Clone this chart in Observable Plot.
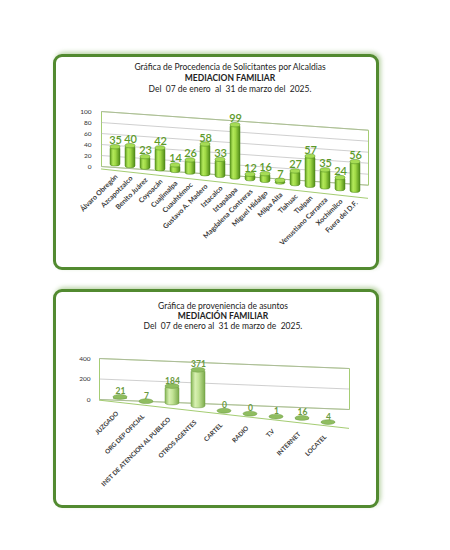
<!DOCTYPE html>
<html><head><meta charset="utf-8">
<script src="https://cdn.jsdelivr.net/npm/d3@7"></script>
<script src="https://cdn.jsdelivr.net/npm/@observablehq/plot@0.6"></script>
<style>
html,body{margin:0;padding:0;background:#fff;}
body{width:450px;height:550px;position:relative;overflow:hidden;font-family:Lato,"Open Sans",sans-serif;}
.panel{position:absolute;left:53px;width:326px;box-sizing:border-box;border:3px solid #528a30;border-radius:9px;background:#fff;box-shadow:2px -2px 4px rgba(110,165,70,0.45);}
.title{position:absolute;text-align:center;color:#222;font-size:8.5px;}
.title b{font-weight:700;}
.chart{position:absolute;left:0;}
</style></head>
<body>
<div class="panel" style="top:54px;height:216px;"></div>
<div class="panel" style="top:289px;height:219px;"></div>
<div class="title" style="left:0;width:460px;top:61.5px;line-height:11px;">Gráfica de Procedencia de Solicitantes por Alcaldias<br><b>MEDIACION FAMILIAR</b><br>Del&nbsp; 07 de enero&nbsp; al&nbsp; 31 de marzo del&nbsp; 2025.</div>
<div class="title" style="left:0;width:446px;top:302px;line-height:9.8px;">Gráfica de proveniencia de asuntos<br><b>MEDIACIÓN FAMILIAR</b><br>Del&nbsp; 07 de enero al&nbsp; 31 de marzo de&nbsp; 2025.</div>
<div id="c1" class="chart" style="top:95px;"></div>
<div id="c2" class="chart" style="top:340px;"></div>
<script>
// ---- Data: chart 1 ----
const alcaldias = ["Álvaro Obregón","Azcapotzalco","Benito Juárez","Coyoacán","Cuajimalpa","Cuauhtémoc","Gustavo A. Madero","Iztacalco","Iztapalapa","Magdalena Contreras","Miguel Hidalgo","Milpa Alta","Tlahuac","Tlalpan","Venustiano Carranza","Xochimilco","Fuera del D.F."];
const solicitantes = [35,40,23,42,14,26,58,33,99,12,16,7,27,57,35,24,56];
const yTicks1 = [0,20,40,60,80,100];
// ---- Data: chart 2 ----
const asuntos = ["JUZGADO","ORG DEP OFICIAL","INST DE ATENCION AL PUBLICO","OTROS AGENTES","CARTEL","RADIO","T.V","INTERNET","LOCATEL"];
const asuntosValores = [21,7,184,371,0,0,1,16,4];
const yTicks2 = [0,200,400];

const SVGNS = "http://www.w3.org/2000/svg";

function addGradient(svg, id, stops) {
  const defs = document.createElementNS(SVGNS, "defs");
  const lg = document.createElementNS(SVGNS, "linearGradient");
  lg.setAttribute("id", id);
  lg.setAttribute("x1", "0"); lg.setAttribute("x2", "1");
  lg.setAttribute("y1", "0"); lg.setAttribute("y2", "0");
  stops.forEach(([o, c]) => {
    const s = document.createElementNS(SVGNS, "stop");
    s.setAttribute("offset", o); s.setAttribute("stop-color", c);
    lg.appendChild(s);
  });
  defs.appendChild(lg);
  svg.insertBefore(defs, svg.firstChild);
}

function bandCenter(plot, cats, opts) {
  let sc = null;
  try { sc = plot.scale("x"); } catch (e) {}
  if (sc && sc.apply) return c => sc.apply(c) + sc.bandwidth / 2;
  const b = d3.scaleBand(cats, [opts.marginLeft, opts.width - opts.marginRight]).padding(opts.padding);
  return c => b(c) + b.bandwidth() / 2;
}

function shiftGroup(g, k, x0, center, cats) {
  if (!g) return;
  const els = Array.from(g.children).filter(e => e.tagName.toLowerCase() !== "title");
  els.forEach((el, i) => {
    if (i >= cats.length) return;
    const off = k * (center(cats[i]) - x0);
    const t = el.getAttribute("transform") || "";
    el.setAttribute("transform", `translate(0,${off.toFixed(2)}) ${t}`);
  });
}

function skewGroup(g, k, x0) {
  if (!g) return;
  const w = document.createElementNS(SVGNS, "g");
  g.parentNode.insertBefore(w, g);
  w.appendChild(g);
  const deg = Math.atan(k) * 180 / Math.PI;
  w.setAttribute("transform", `translate(${x0},0) skewY(${deg}) translate(${-x0},0)`);
}

function build(cfg) {
  const data = cfg.cats.map((c, i) => ({cat: c, value: cfg.values[i]}));
  const opts = {width: 450, height: cfg.height, marginLeft: cfg.ml, marginRight: cfg.mr, padding: cfg.padding};
  const plot = Plot.plot({
    width: 450,
    height: cfg.height,
    marginTop: cfg.mt,
    marginBottom: cfg.mb,
    marginLeft: cfg.ml,
    marginRight: cfg.mr,
    style: {background: "transparent", fontFamily: "Lato, 'Open Sans', sans-serif", fontSize: cfg.tickFont, color: "#333", overflow: "visible"},
    x: {domain: cfg.cats, padding: cfg.padding, axis: null},
    y: {domain: cfg.yDomain, ticks: cfg.yTicks, tickSize: 0, tickPadding: cfg.tickPad, label: null},
    marks: [
      Plot.frame({stroke: "#9cc866", strokeWidth: 0.9}),
      Plot.ruleY(cfg.yTicks, {stroke: "#b0b0b0", strokeWidth: 0.6}),
      Plot.ruleY([cfg.yDomain[0]], {stroke: "#9cc866", strokeWidth: 0.9, dy: cfg.floorDy}),
      Plot.barY(data, {x: "cat", y: "value", fill: `url(#${cfg.id}g)`, stroke: cfg.barStroke, strokeWidth: 0.5, rx: cfg.rx, ry: 2}),
      Plot.barY(data, {x: "cat", y1: "value", y2: "value", insetTop: -cfg.capH, insetBottom: -cfg.capH, rx: 20, ry: cfg.capH, fill: cfg.capFill, stroke: cfg.barStroke, strokeWidth: 0.5}),
      Plot.text(data, {x: "cat", y: "value", text: d => String(d.value), lineAnchor: "bottom", dy: cfg.valDy, fill: cfg.valColor, fontSize: cfg.valFont, fontWeight: cfg.valWeight}),
      Plot.text(data, {x: "cat", y: d => 0, text: "cat", rotate: -45, textAnchor: "end", lineAnchor: "middle", dx: cfg.labDx, dy: cfg.labDy, fill: "#3a3a3a", fontSize: cfg.labFont, fontWeight: "bold"})
    ]
  });
  const svg = plot.tagName.toLowerCase() === "svg" ? plot : plot.querySelector("svg");
  addGradient(svg, cfg.id + "g", cfg.grad);
  const center = bandCenter(plot, cfg.cats, opts);
  const x0 = center(cfg.cats[0]);
  const bars = svg.querySelectorAll('g[aria-label="bar"]');
  const texts = svg.querySelectorAll('g[aria-label="text"]');
  const rules = svg.querySelectorAll('g[aria-label="rule"]');
  const frame = svg.querySelector('g[aria-label="frame"], rect[aria-label="frame"]');
  bars.forEach(g => shiftGroup(g, cfg.kBar, x0, center, cfg.cats));
  texts.forEach(g => shiftGroup(g, cfg.kBar, x0, center, cfg.cats));
  if (rules[0]) skewGroup(rules[0], cfg.kGrid, cfg.ml);
  if (rules[1]) skewGroup(rules[1], cfg.kBar, x0);
  if (frame) skewGroup(frame, cfg.kGrid, cfg.ml);
  document.getElementById(cfg.id).appendChild(plot);
}

build({
  id: "c1", cats: alcaldias, values: solicitantes, yTicks: yTicks1, yDomain: [0, 100],
  height: 175, mt: 16, mb: 104, ml: 101, mr: 82, padding: 0.35, tickFont: "6.5px", tickPad: 10,
  kBar: 0.11, kGrid: 0.07, floorDy: 4, rx: 4, capH: 2.2,
  grad: [["0", "#5e9a1e"], ["0.3", "#b4ea5c"], ["0.55", "#9fd845"], ["1", "#4f8a17"]],
  capFill: "#a6dc55", barStroke: "#4f8a1f",
  valColor: "#5c9a2a", valFont: 11, valWeight: "600", valDy: -3,
  labFont: 7, labDx: 1, labDy: 9
});

build({
  id: "c2", cats: asuntos, values: asuntosValores, yTicks: yTicks2, yDomain: [0, 400],
  height: 165, mt: 18, mb: 106, ml: 99, mr: 101, padding: 0.45, tickFont: "6.5px", tickPad: 9,
  kBar: 0.113, kGrid: 0.04, floorDy: 3, rx: 6, capH: 2.4,
  grad: [["0", "#86b656"], ["0.3", "#d8f0b2"], ["0.55", "#c2e395"], ["1", "#7aa94a"]],
  capFill: "#8fbd60", barStroke: "#6e9c42",
  valColor: "#6a9a40", valFont: 8.5, valWeight: "bold", valDy: -3,
  labFont: 6.3, labDx: -3, labDy: 13
});
</script>
</body></html>
